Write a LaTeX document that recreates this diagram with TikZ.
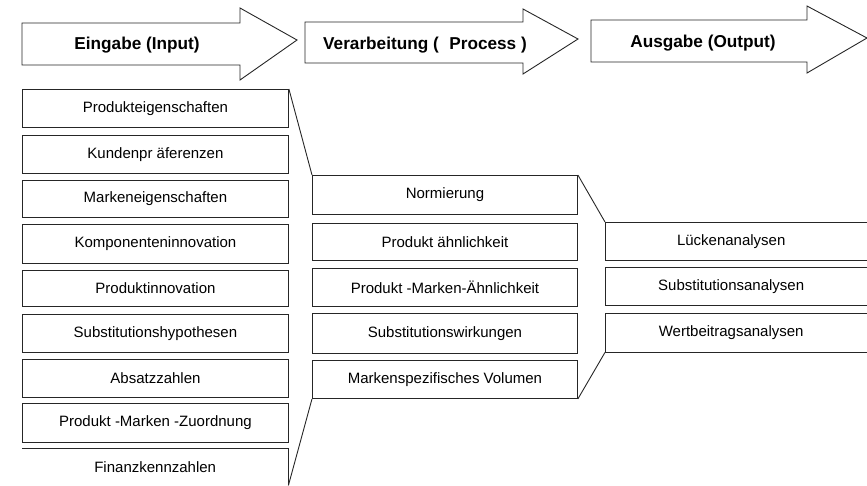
\documentclass[tikz,border=0pt]{standalone}
\usepackage{fontspec}
\setmainfont{Liberation Sans}
\begin{document}
\begin{tikzpicture}[x=1pt,y=-1pt,
  ln/.style={draw=black!85,line width=0.9pt},
  boxtxt/.style={inner sep=0pt, font=\fontsize{15}{17}\selectfont, anchor=north west},
  lbox/.style={boxtxt, ln, minimum width=266pt},
  mbox/.style={boxtxt, ln, minimum width=265pt},
  rbox/.style={boxtxt, minimum width=252pt},
  title/.style={font=\fontsize{17.2}{20}\selectfont\bfseries, inner sep=0pt},
  bigarrow/.style={draw=black!85, line width=0.9pt, line join=miter}]
\useasboundingbox (0,0) rectangle (867,485);
\clip (0,0) rectangle (867,485);

% header arrows
\draw[bigarrow] (22,23) -- (240,23) -- (240,8) -- (297,40) -- (240,80) -- (240,65) -- (22,65) -- cycle;
\draw[bigarrow] (305,22) -- (523,22) -- (523,9) -- (578,39) -- (523,74) -- (523,63) -- (305,63) -- cycle;
\draw[bigarrow] (591,20) -- (807,20) -- (807,6) -- (867,38) -- (807,73) -- (807,62) -- (591,62) -- cycle;
\node[title] (t1) at (137,45) {Eingabe (Input)};
\node[title] (t2) at (425,45) {Verarbeitung (\,\, Process )};
\node[title] (t3) at (703,43) {Ausgabe (Output)};

% input column
\foreach \t/\b/\txt [count=\i] in {
  89/127/Produkteigenschaften,
  135/173/Kundenpr äferenzen,
  180/217/Markeneigenschaften,
  224/263/Komponenteninnovation,
  270/306/Produktinnovation,
  314/352/Substitutionshypothesen,
  359/397/Absatzzahlen,
  403/442/Produkt -Marken -Zuordnung}
  \node[lbox, minimum height={\b-\t}] (l\i) at (22,\t) {\txt};
\node[boxtxt, minimum width=266pt, minimum height=37pt] (l9) at (22,448) {Finanzkennzahlen};
\draw[ln] (l9.north west) -- (l9.north east) -- (l9.south east);

% process column
\foreach \t/\b/\txt [count=\i] in {
  175/214/Normierung,
  223/260/Produkt ähnlichkeit,
  268/306/Produkt -Marken-Ähnlichkeit,
  313/353/Substitutionswirkungen,
  360/398/Markenspezifisches Volumen}
  \node[mbox, minimum height={\b-\t}] (m\i) at (312,\t) {\txt};

% output column (open to the right)
\foreach \t/\b/\txt [count=\i] in {
  222/260/Lückenanalysen,
  267/305/Substitutionsanalysen,
  313/352/Wertbeitragsanalysen}
{
  \node[rbox, minimum height={\b-\t}] (r\i) at (605,\t) {\txt};
  \draw[ln] ([xshift=20pt]r\i.north east) -- (r\i.north west) -- (r\i.south west) -- ([xshift=20pt]r\i.south east);
}

% funnels
\draw[ln] (l1.north east) -- (m1.north west);
\draw[ln] (l9.south east) -- (m5.south west);
\draw[ln] (m1.north east) -- (r1.north west);
\draw[ln] (m5.south east) -- (r3.south west);
\end{tikzpicture}
\end{document}
